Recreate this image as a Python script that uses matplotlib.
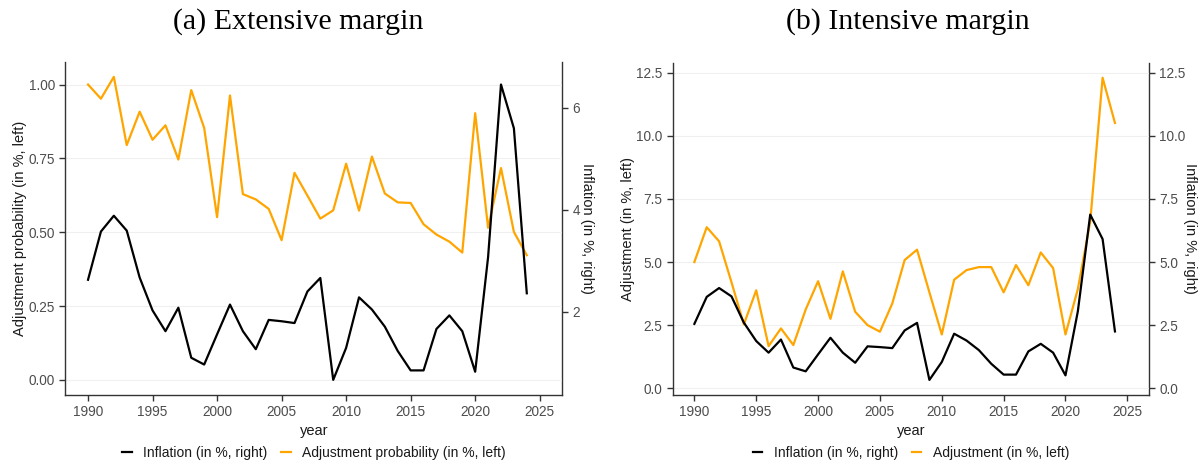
import numpy as np
import matplotlib.pyplot as plt
from matplotlib.lines import Line2D

plt.rcParams["font.family"] = ["Liberation Sans", "DejaVu Sans"]

years = np.arange(1990, 2025)

# share of prices adjusted per year (extensive margin)
adj_prob = [1.000, 0.952, 1.026, 0.795, 0.908, 0.813, 0.862, 0.746, 0.981, 0.853,
            0.551, 0.963, 0.629, 0.611, 0.579, 0.473, 0.701, 0.624, 0.546, 0.574,
            0.732, 0.573, 0.756, 0.631, 0.601, 0.599, 0.527, 0.492, 0.468, 0.431,
            0.903, 0.515, 0.717, 0.501, 0.422]

# average size of adjustment in % (intensive margin)
adj_size = [5.00, 6.38, 5.82, 4.20, 2.53, 3.88, 1.67, 2.37, 1.71, 3.12,
            4.24, 2.75, 4.63, 3.03, 2.50, 2.24, 3.36, 5.08, 5.49, 3.80,
            2.13, 4.30, 4.68, 4.80, 4.80, 3.80, 4.88, 4.08, 5.38, 4.76,
            2.13, 3.93, 6.60, 12.30, 10.51]

# annual inflation in %
inflation = [2.55, 3.62, 3.97, 3.64, 2.60, 1.87, 1.41, 1.93, 0.82, 0.67,
             1.34, 2.00, 1.41, 1.01, 1.66, 1.63, 1.59, 2.29, 2.59, 0.33,
             1.04, 2.16, 1.89, 1.51, 0.97, 0.54, 0.54, 1.46, 1.76, 1.41,
             0.51, 3.05, 6.88, 5.91, 2.25]

# right-hand scale of panel (a): inflation = SEC_SHIFT + SEC_SCALE * left
SEC_SHIFT, SEC_SCALE = 0.659, 5.798

prob_ticks = [0.0, 0.25, 0.5, 0.75, 1.0]
sec_ticks_a = [2, 4, 6]
size_ticks = [0.0, 2.5, 5.0, 7.5, 10.0, 12.5]
year_ticks = [1990, 1995, 2000, 2005, 2010, 2015, 2020, 2025]

ORANGE = "#FFA500"
AXCOL = "#333333"
TXT = "#4D4D4D"
GRID = "#F0F0F0"
LW = 1.6
SERIF = ["Liberation Serif", "DejaVu Serif"]

fig = plt.figure(figsize=(12.03, 4.65), dpi=100)
ax_a = fig.add_axes([0.0544, 0.1505, 0.4130, 0.7168])
ax_b = fig.add_axes([0.5592, 0.1505, 0.3959, 0.7147])


def style(ax, sec):
    ax.spines["top"].set_visible(False)
    ax.spines["right"].set_visible(False)
    for a in (ax, sec):
        for s in ("left", "bottom", "right"):
            if s in a.spines:
                a.spines[s].set_color(AXCOL)
                a.spines[s].set_linewidth(1.0)
        a.tick_params(colors=AXCOL, labelcolor=TXT, labelsize=9.8,
                      length=4, width=1.0, direction="out")
    ax.grid(axis="y", color=GRID, linewidth=0.8)
    ax.set_axisbelow(True)
    ax.set_xlim(1988.25, 2026.75)
    ax.set_xticks(year_ticks)
    ax.set_xlabel("year", fontsize=10.5, color="#1A1A1A", labelpad=3)


def pad_limits(lo, hi, frac=0.05):
    span = hi - lo
    return lo - frac * span, hi + frac * span


# (a) extensive margin: inflation rescaled onto the probability axis
infl = np.asarray(inflation)
infl_scaled = (infl - infl.min()) / (infl.max() - infl.min())
ax_a.plot(years, adj_prob, color=ORANGE, lw=LW)
ax_a.plot(years, infl_scaled, color="black", lw=LW)
ax_a.set_ylim(*pad_limits(min(infl_scaled.min(), min(adj_prob)), max(adj_prob)))
ax_a.set_yticks(prob_ticks)
ax_a.set_yticklabels([f"{t:.2f}" for t in prob_ticks])
ax_a.set_ylabel("Adjustment probability (in %, left)", fontsize=10.5,
                color="#1A1A1A", labelpad=1)
sec_a = ax_a.secondary_yaxis(
    "right",
    functions=(lambda v: SEC_SHIFT + SEC_SCALE * v,
               lambda v: (v - SEC_SHIFT) / SEC_SCALE))
sec_a.set_yticks(sec_ticks_a)
sec_a.set_ylabel("Inflation (in %, right)", fontsize=10.5, color="#1A1A1A",
                 rotation=270, labelpad=10)
style(ax_a, sec_a)

# (b) intensive margin: both series in % on the same scale
ax_b.plot(years, adj_size, color=ORANGE, lw=LW)
ax_b.plot(years, inflation, color="black", lw=LW)
ax_b.set_ylim(*pad_limits(min(min(adj_size), min(inflation)),
                          max(max(adj_size), max(inflation))))
ax_b.set_yticks(size_ticks)
ax_b.set_yticklabels([f"{t:.1f}" for t in size_ticks])
ax_b.set_ylabel("Adjustment (in %, left)", fontsize=10.5, color="#1A1A1A",
                labelpad=1)
sec_b = ax_b.secondary_yaxis("right")
sec_b.set_yticks(size_ticks)
sec_b.set_yticklabels([f"{t:.1f}" for t in size_ticks])
sec_b.set_ylabel("Inflation (in %, right)", fontsize=10.5, color="#1A1A1A",
                 rotation=270, labelpad=8)
style(ax_b, sec_b)

# legends below each panel
for ax, lab in ((ax_a, "Adjustment probability (in %, left)"),
                (ax_b, "Adjustment (in %, left)")):
    handles = [Line2D([], [], color="black", lw=LW),
               Line2D([], [], color=ORANGE, lw=LW)]
    ax.legend(handles, ["Inflation (in %, right)", lab], loc="center",
              bbox_to_anchor=(0.5, -0.175), ncol=2, frameon=False,
              fontsize=10, handlelength=0.7, handletextpad=0.8,
              columnspacing=1.0, labelcolor="#1A1A1A",
              borderpad=0.2)

fig.text(298 / 1203, 1 - 22 / 465, "(a) Extensive margin", ha="center",
         va="center", fontsize=21.5, family=SERIF)
fig.text(908 / 1203, 1 - 22 / 465, "(b) Intensive margin", ha="center",
         va="center", fontsize=21.5, family=SERIF)

fig.savefig("out.png", dpi=100)
